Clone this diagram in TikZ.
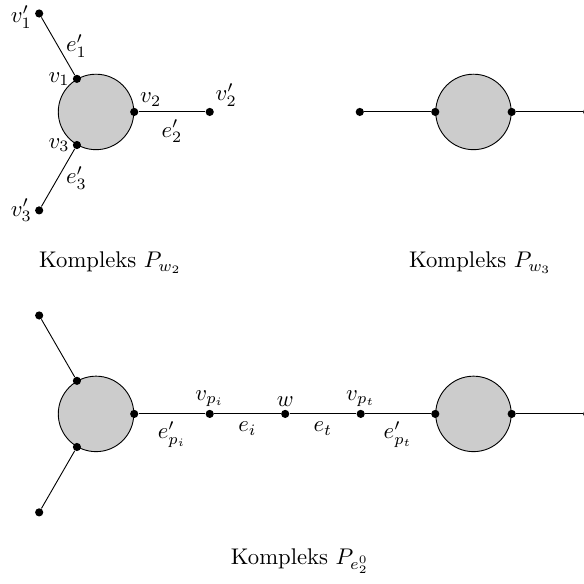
\documentclass[tikz,border=0pt]{standalone}
\usepackage{amsmath,amssymb}
\usetikzlibrary{positioning, calc}

\begin{document}
\begin{tikzpicture}[
    x=1.17cm, y=1.17cm,
    every label/.style={inner sep=1pt},
    blob/.style={circle, draw, fill=black!20, minimum size=1.17cm, inner sep=0pt},
    dot/.style={circle, fill, inner sep=0pt, minimum size=3.6pt},
    caption/.style={font=\normalsize}
]
\useasboundingbox (-1.272,1.483) rectangle (6.464,-6.252);

% Kompleks P_{w_2}
\node (blobA) [blob] at (0,0) {};
\node (a1) [dot, label=left:$v_1$] at (blobA.120) {};
\node (a2) [dot, label=above right:$v_2$] at (blobA.east) {};
\node (a3) [dot, label=left:$v_3$] at (blobA.240) {};
\node (a1o) [dot, label={[yshift=-1.5pt]left:$v_1'$}] at ($(a1)+(120:1)$) {};
\node (a2o) [dot, label=above right:$v_2'$] at ($(a2)+(1,0)$) {};
\node (a3o) [dot, label=left:$v_3'$] at ($(a3)+(240:1)$) {};

\draw (a1) -- node[right] {$e_1'$} (a1o);
\draw (a2) -- node[below] {$e_2'$} (a2o);
\draw (a3) -- node[right] {$e_3'$} (a3o);

\node (capA) [caption] at (0.19,-2) {Kompleks $P_{w_2}$};

% Kompleks P_{w_3}
\node (blobB) [blob] at (5,0) {};
\node (b1) [dot] at (blobB.west) {};
\node (b2) [dot] at (blobB.east) {};
\node (b1o) [dot] at ($(b1)+(-1,0)$) {};
\node (b2o) [dot] at ($(b2)+(1,0)$) {};

\draw (b1o) -- (b1);
\draw (b2) -- (b2o);

\node (capB) [caption] at (5.09,-2) {Kompleks $P_{w_3}$};

% Kompleks P_{e_2^0}
\node (blobC) [blob] at (0,-4) {};
\node (c1) [dot] at (blobC.120) {};
\node (c2) [dot] at (blobC.east) {};
\node (c3) [dot] at (blobC.240) {};
\node (c1o) [dot] at ($(c1)+(120:1)$) {};
\node (c3o) [dot] at ($(c3)+(240:1)$) {};

\node (vpi) [dot, label=above:$v_{p_i}$] at ($(c2)+(1,0)$) {};
\node (w) [dot, label=above:$w$] at ($(vpi)+(1,0)$) {};
\node (vpt) [dot, label=above:$v_{p_t}$] at ($(w)+(1,0)$) {};

\node (blobD) [blob] at (5,-4) {};
\node (d1) [dot] at (blobD.west) {};
\node (d2) [dot] at (blobD.east) {};
\node (d2o) [dot] at ($(d2)+(1,0)$) {};

\draw (c1) -- (c1o);
\draw (c3) -- (c3o);
\draw (c2) -- node[below] {$e_{p_i}'$} (vpi);
\draw (vpi) -- node[below] {$e_i$} (w);
\draw (w) -- node[below] {$e_t$} (vpt);
\draw (vpt) -- node[below] {$e_{p_t}'$} (d1);
\draw (d2) -- (d2o);

\node (capC) [caption] at (2.7,-5.95) {Kompleks $P_{e_2^0}$};

\end{tikzpicture}
\end{document}
